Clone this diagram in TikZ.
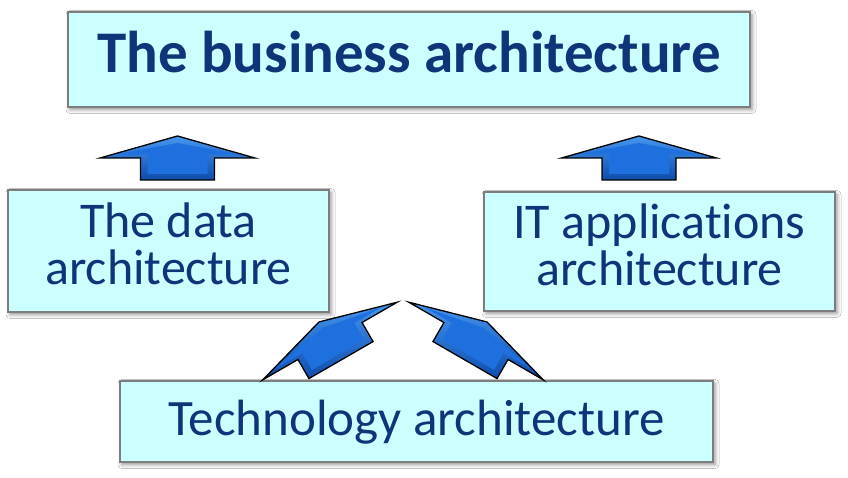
\documentclass[tikz,border=0pt]{standalone}
\usepackage{fontspec}
\setmainfont[Ligatures={NoCommon}]{Carlito}
\usetikzlibrary{shadows.blur}
\definecolor{boxfill}{RGB}{204,255,255}
\definecolor{boxline}{RGB}{125,125,125}
\definecolor{txtblue}{RGB}{16,52,122}
\definecolor{arrowdark}{RGB}{14,76,170}
\definecolor{arrowlight}{RGB}{70,150,240}
\definecolor{arrowface}{RGB}{30,112,222}
\tikzset{
  archbox/.style={draw=boxline, line width=2.5pt, fill=boxfill, inner sep=0pt,
    text=txtblue, align=center,
    blur shadow={shadow xshift=2pt, shadow yshift=-2.5pt, shadow blur radius=4pt, shadow opacity=45}},
  bigarrow/.pic={
    \shade[top color=arrowlight, bottom color=arrowdark]
      (0,22)--(77.5,0)--(37,0)--(37,-22)--(-37,-22)--(-37,0)--(-77.5,0)--cycle;
    \fill[arrowface]
      (0,15)--(62,3.5)--(30,3.5)--(30,-16)--(-30,-16)--(-30,3.5)--(-62,3.5)--cycle;
    \draw[black, line width=1.3pt, line join=miter]
      (0,22)--(77.5,0)--(37,0)--(37,-22)--(-37,-22)--(-37,0)--(-77.5,0)--cycle;
  }
}
\begin{document}
\begin{tikzpicture}[x=1pt,y=1pt]
\useasboundingbox (0,0) rectangle (848,478);
\fill[white] (0,0) rectangle (848,478);
% boxes
\node[archbox, minimum width=682pt, minimum height=95pt, text height=41pt, text depth=14pt,
  font=\fontsize{59}{62}\selectfont\bfseries] (business) at (409,418.5) {The business architecture};
\node[archbox, minimum width=321pt, minimum height=122pt, text depth=15pt,
  font=\fontsize{50}{47}\selectfont] (data) at (168.5,227) {The data\\architecture};
\node[archbox, minimum width=351pt, minimum height=119pt, text depth=14pt,
  font=\fontsize{50}{47}\selectfont] (itapp) at (659.5,226.5) {IT applications\\architecture};
\node[archbox, minimum width=593pt, minimum height=81pt, text height=35pt, text depth=7pt,
  font=\fontsize{51}{54}\selectfont] (tech) at (416.5,56.5) {Technology architecture};
% arrows
\pic at (177.5,320) {bigarrow};
\pic at (639,320) {bigarrow};
\pic[rotate=30] at (330,137) {bigarrow};
\pic[rotate=-30] at (476,137) {bigarrow};
\end{tikzpicture}
\end{document}
